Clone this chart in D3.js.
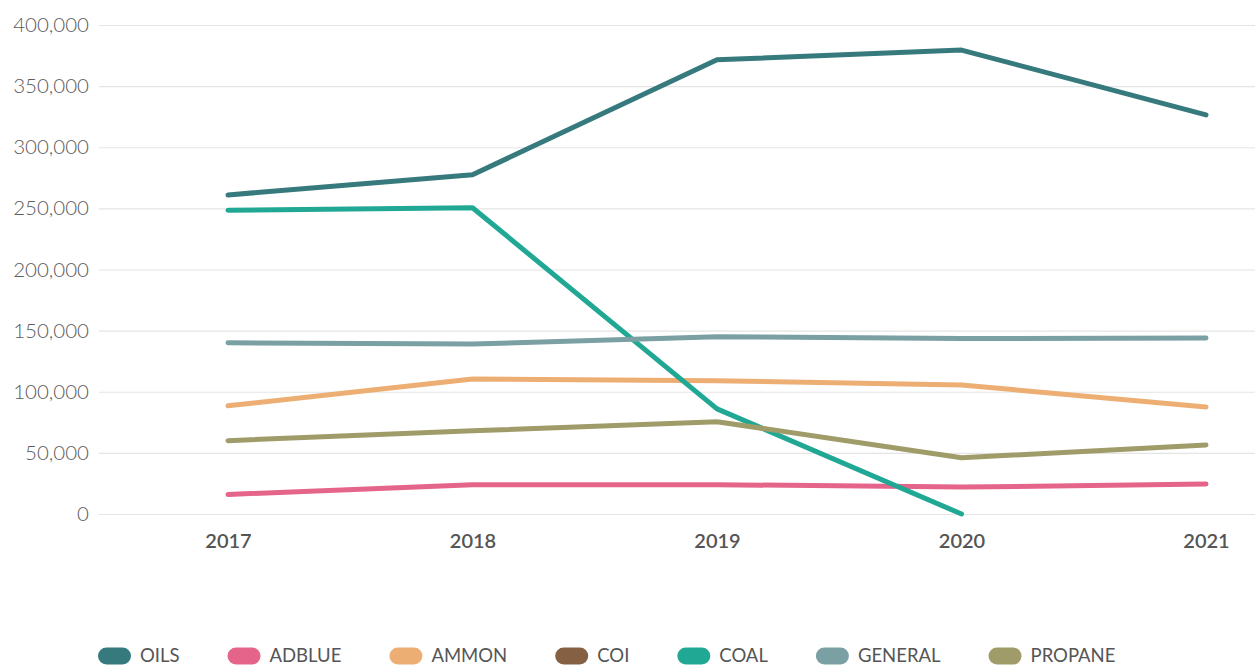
<!DOCTYPE html>
<html>
<head>
<meta charset="utf-8">
<script src="https://cdn.jsdelivr.net/npm/d3@7"></script>
<style>
  body { margin: 0; background: #fff; }
  svg { display: block; font-family: "Lato", "Noto Sans", sans-serif; }
</style>
</head>
<body>
<div id="chart"></div>
<script>
"use strict";

/* <!-- Data --> */
var years = ["2017", "2018", "2019", "2020", "2021"];
var yTicks = [0, 50000, 100000, 150000, 200000, 250000, 300000, 350000, 400000];
var seriesNames = ["OILS", "ADBLUE", "AMMON", "COI", "COAL", "GENERAL", "PROPANE"];
var seriesColors = ["#367a7d", "#e5648a", "#edae74", "#866043", "#21a895", "#7aa0a3", "#a09c6a"];
var oils = [261000, 277500, 371500, 379500, 326500];
var adblue = [16000, 24000, 24000, 22000, 24500];
var ammon = [88500, 110500, 109000, 105500, 87500];
var coi = [null, null, null, null, null];
var coal = [248500, 250500, 86000, 0, null];
var general = [140000, 139000, 145000, 143500, 144000];
var propane = [60000, 68000, 75500, 46000, 56500];
var seriesValues = [oils, adblue, ammon, coi, coal, general, propane];

/* <!-- Layout --> */
var W = 1255, H = 667;
var svg = d3.select("#chart").append("svg").attr("width", W).attr("height", H);

var x = d3.scalePoint().domain(years).range([228, 1206]);
var y = d3.scaleLinear().domain([0, 400000]).range([514, 25]);

/* <!-- Grid + y labels --> */
svg.append("g")
  .attr("transform", "translate(99,0)")
  .call(d3.axisLeft(y).tickValues(yTicks).tickSize(-1156).tickPadding(10).tickFormat(d3.format(",")))
  .call(g => g.select(".domain").remove())
  .call(g => g.selectAll(".tick line").attr("stroke", "#e4e4e4").attr("stroke-width", 1.2))
  .call(g => g.selectAll(".tick text").attr("fill", "#5c5c5c").attr("font-size", 20.5)
    .attr("font-family", "Lato, sans-serif").attr("font-weight", 300));

/* <!-- x labels --> */
svg.append("g")
  .attr("transform", "translate(0,514)")
  .call(d3.axisBottom(x).tickSize(0).tickPadding(20))
  .call(g => g.select(".domain").remove())
  .call(g => g.selectAll(".tick text").attr("fill", "#555").attr("font-size", 20)
    .attr("font-family", "Lato, sans-serif").attr("font-weight", 600));

/* <!-- Lines --> */
var line = d3.line()
  .defined(d => d.v !== null)
  .x(d => x(d.year))
  .y(d => y(d.v));

seriesNames.forEach((name, i) => {
  var pts = years.map((yr, j) => ({ year: yr, v: seriesValues[i][j] }));
  svg.append("path")
    .datum(pts)
    .attr("fill", "none")
    .attr("stroke", seriesColors[i])
    .attr("stroke-width", 5)
    .attr("stroke-linecap", "round")
    .attr("stroke-linejoin", "round")
    .attr("d", line);
});

/* <!-- Legend --> */
var legend = svg.append("g").attr("transform", "translate(0,656)");
var lx = 98;
seriesNames.forEach((name, i) => {
  var item = legend.append("g").attr("transform", `translate(${lx},0)`);
  item.append("rect")
    .attr("x", 0).attr("y", -8.5).attr("width", 33).attr("height", 17).attr("rx", 8.5)
    .attr("fill", seriesColors[i]);
  var t = item.append("text")
    .attr("x", 42).attr("y", 0).attr("dy", "0.35em")
    .attr("fill", "#555").attr("font-size", 18.5)
    .attr("font-family", "Lato, sans-serif")
    .text(name);
  lx += 42 + t.node().getComputedTextLength() + 48;
});
</script>
</body>
</html>
